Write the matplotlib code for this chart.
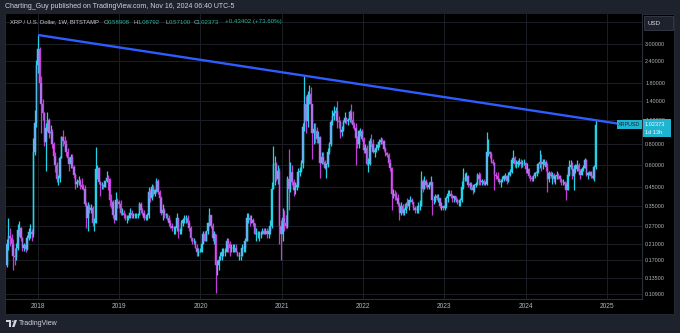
import numpy as np
import pandas as pd
import matplotlib
matplotlib.use("Agg")
import matplotlib.pyplot as plt
import matplotlib.dates as mdates
from matplotlib.patches import Rectangle, Polygon, Circle
from matplotlib.ticker import FixedLocator, FixedFormatter, NullLocator

# ---------------------------------------------------------------------------
# XRP / USD weekly candles (Bitstamp), first week starts Monday 2017-08-07
# ---------------------------------------------------------------------------
first_open = 0.172

weekly_close = [
    # 2017 (from Aug 7)
    0.160, 0.210, 0.235, 0.228, 0.212, 0.180, 0.178, 0.200, 0.255, 0.262, 0.228,
    0.200, 0.208, 0.198, 0.230, 0.248, 0.248, 0.240, 0.720, 1.050, 2.280,
    # 2018
    2.80, 1.80, 1.35, 1.20, 0.82, 0.98, 1.10, 0.92, 0.93, 0.80, 0.68, 0.60, 0.50,
    0.51, 0.66, 0.87, 0.83, 0.80, 0.72, 0.66, 0.61, 0.67, 0.59, 0.53, 0.47, 0.48,
    0.49, 0.46, 0.45, 0.44, 0.36, 0.30, 0.35, 0.33, 0.34, 0.28, 0.28, 0.57, 0.58,
    0.48, 0.46, 0.46, 0.45, 0.49, 0.51, 0.50, 0.38, 0.37, 0.31, 0.29, 0.38, 0.37, 0.36,
    # 2019
    0.32, 0.32, 0.31, 0.30, 0.30, 0.30, 0.32, 0.31, 0.31, 0.31, 0.31, 0.31,
    0.36, 0.33, 0.32, 0.30, 0.30, 0.31, 0.42, 0.39, 0.45, 0.41, 0.43, 0.49, 0.42,
    0.39, 0.32, 0.33, 0.31, 0.31, 0.30, 0.28, 0.27, 0.26, 0.26, 0.26, 0.30, 0.25, 0.25,
    0.28, 0.29, 0.30, 0.30, 0.28, 0.26, 0.23, 0.22, 0.22, 0.20, 0.19, 0.19, 0.19,
    # 2020
    0.21, 0.24, 0.22, 0.25, 0.28, 0.31, 0.27, 0.23, 0.24, 0.16, 0.16, 0.17, 0.18,
    0.19, 0.19, 0.19, 0.22, 0.21, 0.20, 0.20, 0.20, 0.20, 0.19, 0.18, 0.18, 0.18,
    0.20, 0.20, 0.22, 0.30, 0.30, 0.29, 0.29, 0.28, 0.24, 0.24, 0.24, 0.24, 0.24,
    0.25, 0.24, 0.25, 0.24, 0.25, 0.27, 0.44, 0.61, 0.61, 0.50, 0.56, 0.27, 0.24,
    # 2021
    0.30, 0.28, 0.27, 0.50, 0.44, 0.55, 0.48, 0.43, 0.45, 0.46, 0.55, 0.56, 0.62,
    1.00, 1.36, 1.08, 1.52, 1.55, 1.35, 0.92, 0.97, 0.95, 0.85, 0.87, 0.62, 0.67,
    0.63, 0.58, 0.61, 0.72, 0.80, 1.07, 1.15, 1.20, 1.24, 1.08, 1.07, 0.93, 0.96,
    1.07, 1.13, 1.08, 1.09, 1.22, 1.09, 1.03, 0.99, 0.86, 0.80, 0.94, 0.95, 0.85,
    # 2022
    0.74, 0.76, 0.61, 0.61, 0.83, 0.80, 0.72, 0.74, 0.76, 0.79, 0.82, 0.84, 0.83,
    0.75, 0.71, 0.69, 0.62, 0.58, 0.41, 0.41, 0.40, 0.39, 0.36, 0.32, 0.35, 0.32,
    0.33, 0.36, 0.35, 0.38, 0.38, 0.37, 0.34, 0.33, 0.33, 0.35, 0.35, 0.49, 0.44,
    0.49, 0.46, 0.45, 0.46, 0.48, 0.38, 0.38, 0.40, 0.39, 0.39, 0.35, 0.35, 0.34,
    # 2023
    0.35, 0.39, 0.41, 0.41, 0.40, 0.39, 0.40, 0.38, 0.37, 0.37, 0.38, 0.45, 0.51,
    0.51, 0.52, 0.46, 0.47, 0.45, 0.43, 0.46, 0.47, 0.53, 0.50, 0.48, 0.49, 0.47,
    0.47, 0.72, 0.72, 0.70, 0.63, 0.62, 0.53, 0.52, 0.50, 0.48, 0.49, 0.50, 0.52,
    0.52, 0.49, 0.53, 0.55, 0.64, 0.66, 0.61, 0.61, 0.63, 0.63, 0.61, 0.62, 0.62,
    # 2024 (to week of Nov 11)
    0.57, 0.57, 0.52, 0.51, 0.50, 0.52, 0.54, 0.55, 0.61, 0.63, 0.61, 0.63, 0.63,
    0.59, 0.50, 0.54, 0.52, 0.53, 0.50, 0.52, 0.53, 0.52, 0.50, 0.48, 0.48, 0.47,
    0.43, 0.53, 0.59, 0.60, 0.52, 0.57, 0.57, 0.60, 0.56, 0.53, 0.57, 0.58, 0.64,
    0.53, 0.54, 0.55, 0.52, 0.51, 0.58971, 1.02373,
]

weekly_high = [
    # 2017
    0.180, 0.225, 0.300, 0.260, 0.240, 0.225, 0.200, 0.215, 0.275, 0.285, 0.265,
    0.232, 0.215, 0.212, 0.238, 0.262, 0.275, 0.258, 0.860, 1.250, 2.420,
    # 2018
    3.38, 2.90, 1.95, 1.45, 1.22, 1.05, 1.22, 1.12, 1.02, 0.97, 0.82, 0.72, 0.63,
    0.53, 0.68, 0.89, 0.96, 0.89, 0.84, 0.76, 0.67, 0.70, 0.70, 0.60, 0.54, 0.50,
    0.52, 0.50, 0.51, 0.47, 0.46, 0.37, 0.37, 0.36, 0.36, 0.35, 0.30, 0.77, 0.60,
    0.59, 0.49, 0.48, 0.47, 0.49, 0.56, 0.53, 0.51, 0.41, 0.38, 0.31, 0.42, 0.39, 0.38,
    # 2019
    0.38, 0.34, 0.33, 0.32, 0.31, 0.31, 0.34, 0.33, 0.32, 0.32, 0.32, 0.32,
    0.37, 0.37, 0.34, 0.33, 0.31, 0.32, 0.45, 0.44, 0.47, 0.46, 0.44, 0.51, 0.50,
    0.43, 0.40, 0.36, 0.34, 0.32, 0.32, 0.31, 0.29, 0.28, 0.27, 0.27, 0.32, 0.30, 0.26,
    0.29, 0.30, 0.31, 0.31, 0.31, 0.29, 0.27, 0.23, 0.23, 0.22, 0.21, 0.20, 0.20,
    # 2020
    0.22, 0.25, 0.25, 0.25, 0.28, 0.34, 0.31, 0.28, 0.25, 0.24, 0.17, 0.18, 0.19,
    0.20, 0.20, 0.20, 0.23, 0.23, 0.22, 0.21, 0.21, 0.21, 0.21, 0.19, 0.19, 0.18,
    0.21, 0.21, 0.23, 0.32, 0.32, 0.31, 0.31, 0.30, 0.28, 0.26, 0.25, 0.25, 0.25,
    0.26, 0.26, 0.26, 0.26, 0.26, 0.29, 0.48, 0.78, 0.68, 0.63, 0.60, 0.58, 0.29,
    # 2021
    0.34, 0.33, 0.31, 0.52, 0.75, 0.63, 0.60, 0.50, 0.48, 0.48, 0.58, 0.59, 0.64,
    1.05, 1.97, 1.50, 1.60, 1.75, 1.70, 1.35, 1.05, 1.05, 1.00, 0.94, 0.88, 0.72,
    0.72, 0.64, 0.62, 0.76, 0.82, 1.10, 1.25, 1.32, 1.30, 1.41, 1.16, 1.10, 1.01,
    1.10, 1.22, 1.14, 1.13, 1.25, 1.35, 1.23, 1.07, 1.05, 0.88, 0.96, 0.98, 0.97,
    # 2022
    0.87, 0.80, 0.79, 0.66, 0.86, 0.91, 0.85, 0.76, 0.80, 0.82, 0.85, 0.87, 0.86,
    0.84, 0.77, 0.72, 0.71, 0.65, 0.59, 0.44, 0.43, 0.42, 0.41, 0.37, 0.37, 0.36,
    0.34, 0.37, 0.39, 0.38, 0.40, 0.39, 0.37, 0.35, 0.35, 0.37, 0.38, 0.56, 0.50,
    0.52, 0.50, 0.48, 0.48, 0.52, 0.48, 0.40, 0.41, 0.41, 0.41, 0.39, 0.37, 0.35,
    # 2023
    0.36, 0.40, 0.43, 0.43, 0.43, 0.41, 0.40, 0.40, 0.39, 0.38, 0.39, 0.49, 0.58,
    0.54, 0.55, 0.53, 0.48, 0.48, 0.46, 0.47, 0.48, 0.54, 0.55, 0.54, 0.50, 0.50,
    0.49, 0.93, 0.85, 0.73, 0.72, 0.65, 0.63, 0.55, 0.55, 0.51, 0.50, 0.52, 0.53,
    0.54, 0.53, 0.55, 0.57, 0.65, 0.74, 0.68, 0.64, 0.64, 0.66, 0.65, 0.64, 0.65,
    # 2024
    0.63, 0.62, 0.58, 0.53, 0.52, 0.53, 0.55, 0.56, 0.62, 0.74, 0.70, 0.65, 0.65,
    0.64, 0.62, 0.56, 0.56, 0.55, 0.54, 0.53, 0.56, 0.54, 0.53, 0.50, 0.50, 0.49,
    0.48, 0.55, 0.64, 0.64, 0.63, 0.60, 0.61, 0.64, 0.62, 0.57, 0.59, 0.60, 0.66,
    0.65, 0.55, 0.56, 0.56, 0.54, 0.60, 1.08792,
]

weekly_low = [
    # 2017
    0.150, 0.155, 0.195, 0.205, 0.190, 0.150, 0.160, 0.172, 0.195, 0.235, 0.220,
    0.192, 0.192, 0.190, 0.195, 0.222, 0.230, 0.220, 0.232, 0.690, 1.000,
    # 2018
    2.05, 1.65, 0.92, 1.10, 0.78, 0.56, 0.95, 0.86, 0.88, 0.76, 0.64, 0.55, 0.48,
    0.46, 0.48, 0.66, 0.78, 0.74, 0.68, 0.63, 0.56, 0.58, 0.58, 0.51, 0.44, 0.45,
    0.46, 0.44, 0.44, 0.43, 0.35, 0.26, 0.25, 0.32, 0.32, 0.27, 0.25, 0.28, 0.50,
    0.47, 0.40, 0.44, 0.44, 0.45, 0.48, 0.43, 0.35, 0.34, 0.30, 0.28, 0.29, 0.34, 0.34,
    # 2019
    0.31, 0.31, 0.30, 0.29, 0.28, 0.29, 0.30, 0.30, 0.30, 0.30, 0.30, 0.30,
    0.31, 0.32, 0.31, 0.29, 0.29, 0.29, 0.30, 0.37, 0.38, 0.40, 0.40, 0.42, 0.41,
    0.36, 0.31, 0.29, 0.30, 0.30, 0.29, 0.27, 0.26, 0.25, 0.24, 0.24, 0.25, 0.23, 0.24,
    0.24, 0.27, 0.28, 0.28, 0.27, 0.25, 0.22, 0.21, 0.21, 0.20, 0.18, 0.18, 0.19,
    # 2020
    0.19, 0.21, 0.22, 0.22, 0.24, 0.27, 0.26, 0.22, 0.21, 0.11, 0.14, 0.15, 0.17,
    0.17, 0.18, 0.18, 0.19, 0.19, 0.18, 0.19, 0.19, 0.19, 0.19, 0.18, 0.17, 0.17,
    0.18, 0.19, 0.19, 0.22, 0.28, 0.27, 0.28, 0.27, 0.24, 0.22, 0.23, 0.22, 0.23,
    0.24, 0.24, 0.24, 0.23, 0.23, 0.24, 0.26, 0.44, 0.46, 0.49, 0.47, 0.21, 0.17,
    # 2021
    0.22, 0.25, 0.26, 0.26, 0.33, 0.42, 0.46, 0.40, 0.41, 0.43, 0.45, 0.52, 0.55,
    0.58, 0.95, 0.92, 1.00, 1.35, 1.28, 0.65, 0.80, 0.81, 0.81, 0.81, 0.51, 0.61,
    0.61, 0.57, 0.51, 0.59, 0.70, 0.78, 1.02, 1.10, 1.12, 0.98, 0.99, 0.86, 0.88,
    0.94, 1.05, 1.04, 1.02, 1.06, 1.05, 0.99, 0.96, 0.60, 0.76, 0.76, 0.88, 0.83,
    # 2022
    0.71, 0.71, 0.60, 0.55, 0.60, 0.77, 0.71, 0.67, 0.72, 0.74, 0.77, 0.80, 0.80,
    0.73, 0.68, 0.67, 0.60, 0.56, 0.33, 0.39, 0.38, 0.38, 0.35, 0.29, 0.31, 0.31,
    0.31, 0.32, 0.34, 0.33, 0.37, 0.36, 0.33, 0.32, 0.32, 0.32, 0.33, 0.35, 0.42,
    0.44, 0.45, 0.44, 0.44, 0.45, 0.31, 0.36, 0.37, 0.38, 0.37, 0.34, 0.33, 0.33,
    # 2023
    0.33, 0.34, 0.37, 0.40, 0.39, 0.37, 0.37, 0.37, 0.36, 0.35, 0.35, 0.37, 0.44,
    0.49, 0.49, 0.45, 0.44, 0.43, 0.41, 0.42, 0.45, 0.46, 0.46, 0.46, 0.46, 0.46,
    0.46, 0.46, 0.68, 0.66, 0.62, 0.60, 0.43, 0.50, 0.49, 0.47, 0.45, 0.48, 0.49,
    0.50, 0.47, 0.48, 0.52, 0.54, 0.62, 0.59, 0.58, 0.59, 0.60, 0.58, 0.59, 0.60,
    # 2024
    0.54, 0.54, 0.51, 0.49, 0.49, 0.49, 0.51, 0.52, 0.54, 0.58, 0.56, 0.57, 0.60,
    0.56, 0.42, 0.48, 0.51, 0.47, 0.48, 0.47, 0.50, 0.50, 0.48, 0.46, 0.46, 0.46,
    0.38, 0.43, 0.52, 0.57, 0.50, 0.43, 0.54, 0.56, 0.55, 0.50, 0.53, 0.56, 0.58,
    0.52, 0.50, 0.53, 0.51, 0.50, 0.49, 0.571,
]
# the current week opened slightly below the prior close
last_open = 0.58908

price_ticks = [3.0, 2.4, 1.8, 1.4, 1.1, 0.8, 0.6, 0.45, 0.35, 0.27, 0.21, 0.17, 0.135, 0.109]
year_labels = ["2018", "2019", "2020", "2021", "2022", "2023", "2024", "2025"]

symbol = "XRPUSD"
title_line = "XRP / U.S. Dollar, 1W, BITSTAMP"
countdown = "1d 13h"
publish_note = "Charting_Guy published on TradingView.com, Nov 16, 2024 06:40 UTC-5"

# ---------------------------------------------------------------------------
W, H = 680, 333
FRAME = "#1e222d"
PANEL = "#000000"
GRID = "#1b1e25"
SEP = "#2a2e39"
AXIS_TXT = "#b2b5be"
UP = "#22d3e8"
DOWN = "#c23ed6"
BODY_UP = "#86a0f5"
BODY_DOWN = "#9c8cf0"
TREND = "#2f5cff"
LABEL = "#1fb5d1"
TEAL = "#26b29a"

plt.rcParams["font.family"] = ["Liberation Sans", "DejaVu Sans"]


def fx(x):
    return x / W


def fy(y):
    return 1 - y / H


fig = plt.figure(figsize=(W / 100, H / 100), dpi=100)
fig.patch.set_facecolor(FRAME)

# black chart panel (plot + both scales)
fig.add_artist(Rectangle((fx(5), fy(314)), (674 - 5) / W, (314 - 14) / H,
                         transform=fig.transFigure, facecolor=PANEL,
                         edgecolor=SEP, lw=0.6, zorder=-1))

ax = fig.add_axes([fx(6), fy(299), (642 - 6) / W, (299 - 14) / H])
ax.set_facecolor(PANEL)
ax.set_yscale("log")
ax.set_ylim(0.1019, 4.466)
ax.set_xlim(mdates.date2num(pd.Timestamp("2017-08-10")),
            mdates.date2num(pd.Timestamp("2025-06-07")))

weeks = pd.date_range("2017-08-07", periods=len(weekly_close), freq="W-MON")
xs = mdates.date2num(weeks)
closes = np.array(weekly_close)
highs = np.array(weekly_high)
lows = np.array(weekly_low)
opens = np.r_[first_open, closes[:-1]]
opens[-1] = last_open
rising = closes >= opens

wick_col = np.where(rising, UP, DOWN)
body_col = np.where(rising, BODY_UP, BODY_DOWN)

ax.vlines(xs, np.minimum(lows, np.minimum(opens, closes)),
          np.maximum(highs, np.maximum(opens, closes)),
          colors=wick_col, lw=0.9, zorder=3)
bottoms = np.minimum(opens, closes)
heights = np.abs(closes - opens)
ax.bar(xs, heights, bottom=bottoms, width=6.6, color=body_col,
       edgecolor=wick_col, linewidth=0.35, zorder=4, align="center")

# descending resistance line through the two cycle tops
i_top1 = int(np.argmax(highs[:60]))
i_top2 = 60 + int(np.argmax(highs[60:]))
x1, x2 = xs[i_top1], xs[i_top2]
l1, l2 = np.log(highs[i_top1]), np.log(highs[i_top2])
x_end = ax.get_xlim()[1]
y_end = np.exp(l1 + (l2 - l1) * (x_end - x1) / (x2 - x1))
ax.plot([x1, x_end], [highs[i_top1], y_end], color=TREND, lw=1.7,
        solid_capstyle="butt", zorder=5)

# grid & scales
ax.yaxis.set_major_locator(FixedLocator(price_ticks))
ax.yaxis.set_major_formatter(FixedFormatter([f"{p:.5f}" for p in price_ticks]))
ax.yaxis.set_minor_locator(NullLocator())
ax.yaxis.tick_right()
year_pos = [mdates.date2num(pd.Timestamp(f"{y}-01-01")) for y in year_labels]
ax.xaxis.set_major_locator(FixedLocator(year_pos))
ax.xaxis.set_major_formatter(FixedFormatter(year_labels))
ax.xaxis.set_minor_locator(NullLocator())
ax.grid(True, color=GRID, lw=0.7, zorder=0)
ax.axhline(4.0, color=GRID, lw=0.7, zorder=0)
ax.set_axisbelow(True)
ax.tick_params(axis="y", length=0, pad=2.3, labelsize=3.9, labelcolor=AXIS_TXT)
ax.tick_params(axis="x", length=0, pad=3.2, labelsize=4.8, labelcolor=AXIS_TXT)
for side in ("top", "left"):
    ax.spines[side].set_visible(False)
for side in ("right", "bottom"):
    ax.spines[side].set_color(SEP)
    ax.spines[side].set_linewidth(0.8)

# header strip
fig.text(fx(5), fy(7), publish_note, color="#d1d4dc", fontsize=5.0,
         va="center", ha="left")

# legend line inside the chart
chg = closes[-1] - closes[-2]
chg_pct = chg / closes[-2] * 100
leg_y = fy(22)
fig.text(fx(10), leg_y, title_line, color="#c9ccd4", fontsize=4.2, va="center")
parts = [(104, "O", AXIS_TXT), (108, f"{opens[-1]:.5f}", TEAL),
         (134, "H", AXIS_TXT), (138, f"{highs[-1]:.5f}", TEAL),
         (165, "L", AXIS_TXT), (169, f"{lows[-1]:.5f}", TEAL),
         (194, "C", AXIS_TXT), (197, f"{closes[-1]:.5f}", TEAL),
         (225, f"+{chg:.5f} (+{chg_pct:.2f}%)", TEAL)]
for px, s, c in parts:
    fig.text(fx(px), leg_y, s, color=c, fontsize=4.4, va="center")

# currency button on the price scale
fig.add_artist(Rectangle((fx(644), fy(30)), 29 / W, 14 / H, transform=fig.transFigure,
                         facecolor="#1e222d", edgecolor="#434651", lw=0.5, zorder=4))
fig.text(fx(648), fy(23.2), "USD", color="#e0e3eb", fontsize=4.4, va="center", zorder=5)

# last-price tags
fig.add_artist(Rectangle((fx(617), fy(129)), 25 / W, 9 / H, transform=fig.transFigure,
                         facecolor=LABEL, edgecolor="none", zorder=6))
fig.text(fx(629.5), fy(124.6), symbol, color="#0c2b3a", fontsize=3.9,
         ha="center", va="center", zorder=7)
fig.add_artist(Rectangle((fx(643), fy(137)), 28 / W, 18 / H, transform=fig.transFigure,
                         facecolor=LABEL, edgecolor="none", zorder=6))
fig.text(fx(645), fy(124.4), f"{closes[-1]:.5f}", color="#f2fbfd", fontsize=4.1,
         ha="left", va="center", zorder=7)
fig.text(fx(645), fy(132.2), countdown, color="#f2fbfd", fontsize=4.1,
         ha="left", va="center", zorder=7)

# TradingView mark in the footer
logo = "#d1d4dc"
fig.add_artist(Polygon([(fx(6), fy(320)), (fx(11), fy(320)), (fx(11), fy(327)),
                        (fx(9), fy(327)), (fx(9), fy(322)), (fx(6), fy(322))],
                       closed=True, transform=fig.transFigure, facecolor=logo,
                       edgecolor="none", zorder=5))
fig.add_artist(Circle((fx(12.8), fy(321.2)), 1.1 / W, transform=fig.transFigure,
                      facecolor=logo, edgecolor="none", zorder=5))
fig.add_artist(Polygon([(fx(14.5), fy(320)), (fx(17), fy(320)), (fx(14.5), fy(327)),
                        (fx(12), fy(327))], closed=True, transform=fig.transFigure,
                       facecolor=logo, edgecolor="none", zorder=5))
fig.text(fx(19), fy(323.5), "TradingView", color=logo, fontsize=5.0,
         va="center", ha="left")

fig.savefig("out.png", dpi=100, facecolor=FRAME)
